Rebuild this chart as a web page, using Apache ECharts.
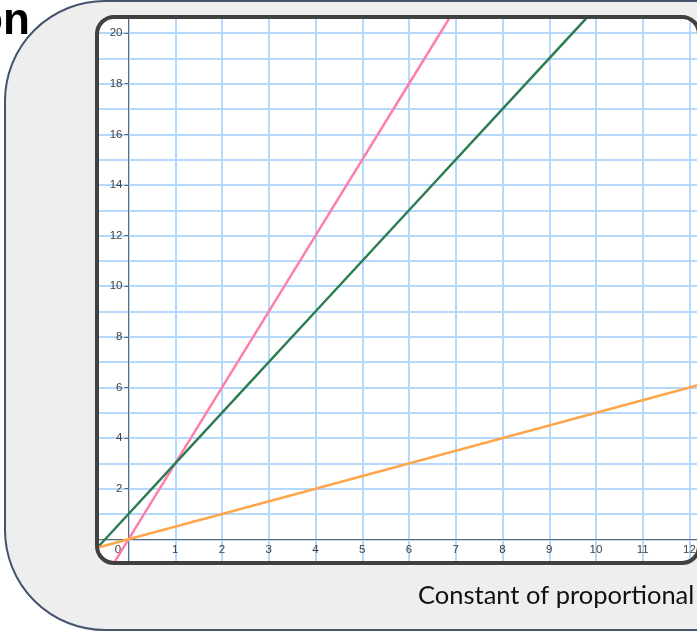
<!DOCTYPE html>
<html>
<head>
<meta charset="utf-8">
<script src="https://cdn.jsdelivr.net/npm/echarts@6/dist/echarts.min.js"></script>
<style>
html,body{margin:0;padding:0;background:#ffffff;}
#chart{width:697px;height:634px;}
</style>
</head>
<body>
<div id="chart"></div>
<script>
// ---- data ----
const xGridValues = [0,1,2,3,4,5,6,7,8,9,10,11,12];
const yGridValues = [0,1,2,3,4,5,6,7,8,9,10,11,12,13,14,15,16,17,18,19,20];
const xLabelStep = 1;
const yLabelStep = 2;
const pinkLine = [[-1,-3],[0,0],[1,3],[4,12],[6,18],[8,24]];
const greenLine = [[-1,-1],[0,1],[1,3],[4,9],[6,13],[9,19],[11,23]];
const orangeLine = [[-1,-0.5],[0,0],[2,1],[4,2],[12,6],[13,6.5]];
const titleFragment = 'on';
const axisTitle = 'Constant of proportional';

// ---- layout ----
const X0 = 128.5, XU = 46.75, Y0 = 539.3, YU = 25.31;
const W = 697, H = 634;
const G = {left: 97, top: 17, right: 0, bottom: 71};
const xMin = (G.left - X0) / XU, xMax = (W - G.right - X0) / XU;
const yMax = (Y0 - G.top) / YU, yMin = (Y0 - (H - G.bottom)) / YU;

const gridColor = '#b5d8fd';
const labelFont = {fontSize: 11.5, color: '#404040', fontFamily: 'Liberation Sans'};
const chart = echarts.init(document.getElementById('chart'), null, {renderer: 'canvas'});
chart.setOption({
  animation: false,
  backgroundColor: '#ffffff',
  grid: [
    {left: G.left, top: G.top, right: G.right, bottom: G.bottom, containLabel: false, outerBoundsMode: 'none'},
    {left: X0, top: G.top, right: G.right, bottom: H - Y0, containLabel: false, outerBoundsMode: 'none'}
  ],
  xAxis: [{
    gridIndex: 0, type: 'value', min: xMin, max: xMax,
    axisLine: {show: true, onZero: true, lineStyle: {color: '#666666', width: 1}},
    axisTick: {show: false, customValues: xGridValues},
    splitLine: {show: true, lineStyle: {color: gridColor, width: 2}},
    axisLabel: {show: false}
  }, {
    gridIndex: 1, type: 'value', min: 0, max: xMax, interval: xLabelStep, position: 'bottom',
    axisLine: {show: false, onZero: false},
    axisTick: {show: false},
    splitLine: {show: false},
    axisLabel: Object.assign({
      margin: 5, rotate: 0, hideOverlap: false, showMaxLabel: false,
      formatter: v => (v === 0 ? '{z|0}' : (Number.isInteger(v) ? String(v) : '')),
      rich: {z: Object.assign({padding: [0, 21, 0, 0]}, labelFont)}
    }, labelFont)
  }],
  yAxis: [{
    gridIndex: 0, type: 'value', min: yMin, max: yMax,
    axisLine: {show: true, onZero: true, lineStyle: {color: '#666666', width: 1}},
    axisTick: {show: false, customValues: yGridValues},
    axisLabel: {show: false},
    splitLine: {show: true, lineStyle: {color: gridColor, width: 2}}
  }, {
    gridIndex: 1, type: 'value', min: 0, max: yMax, interval: yLabelStep, position: 'left',
    axisLine: {show: false, onZero: false},
    axisTick: {show: true, length: 4, lineStyle: {color: '#666666', width: 1}},
    axisLabel: Object.assign({
      margin: 6, rotate: 0, hideOverlap: false, showMaxLabel: false,
      formatter: v => (v > 0 && Number.isInteger(v) ? String(v) : '')
    }, labelFont),
    splitLine: {show: false}
  }],
  series: [
    {type: 'line', data: pinkLine, xAxisIndex: 0, yAxisIndex: 0, symbol: 'none', clip: true, lineStyle: {color: '#ff7fab', width: 2.5}, z: 3},
    {type: 'line', data: greenLine, xAxisIndex: 0, yAxisIndex: 0, symbol: 'none', clip: true, lineStyle: {color: '#2d7c52', width: 2.5}, z: 3},
    {type: 'line', data: orangeLine, xAxisIndex: 0, yAxisIndex: 0, symbol: 'none', clip: true, lineStyle: {color: '#ffa64d', width: 2.5}, z: 3}
  ],
  graphic: [
    {type: 'rect', z: -20, silent: true, shape: {x: 5, y: 1, width: 900, height: 629, r: 100},
     style: {fill: '#eeeeee', stroke: '#44546a', lineWidth: 2}},
    {type: 'rect', z: -19, silent: true, shape: {x: 97, y: 17, width: 602, height: 546, r: 17},
     style: {fill: '#ffffff'}},
    {type: 'rect', z: 50, silent: true, shape: {x: 92, y: 12, width: 612, height: 556, r: 22},
     style: {fill: null, stroke: '#eeeeee', lineWidth: 14}},
    {type: 'rect', z: 51, silent: true, shape: {x: 97, y: 17, width: 602, height: 546, r: 17},
     style: {fill: null, stroke: '#404040', lineWidth: 4}},
    {type: 'text', z: 52, silent: true, left: -24, top: 0,
     style: {text: titleFragment, font: 'bold 44px "Liberation Sans"', fill: '#000000'}},
    {type: 'text', z: 52, silent: true, left: 418, top: 583,
     style: {text: axisTitle, font: '25.5px Lato', fill: '#111111'}}
  ]
});
</script>
</body>
</html>
